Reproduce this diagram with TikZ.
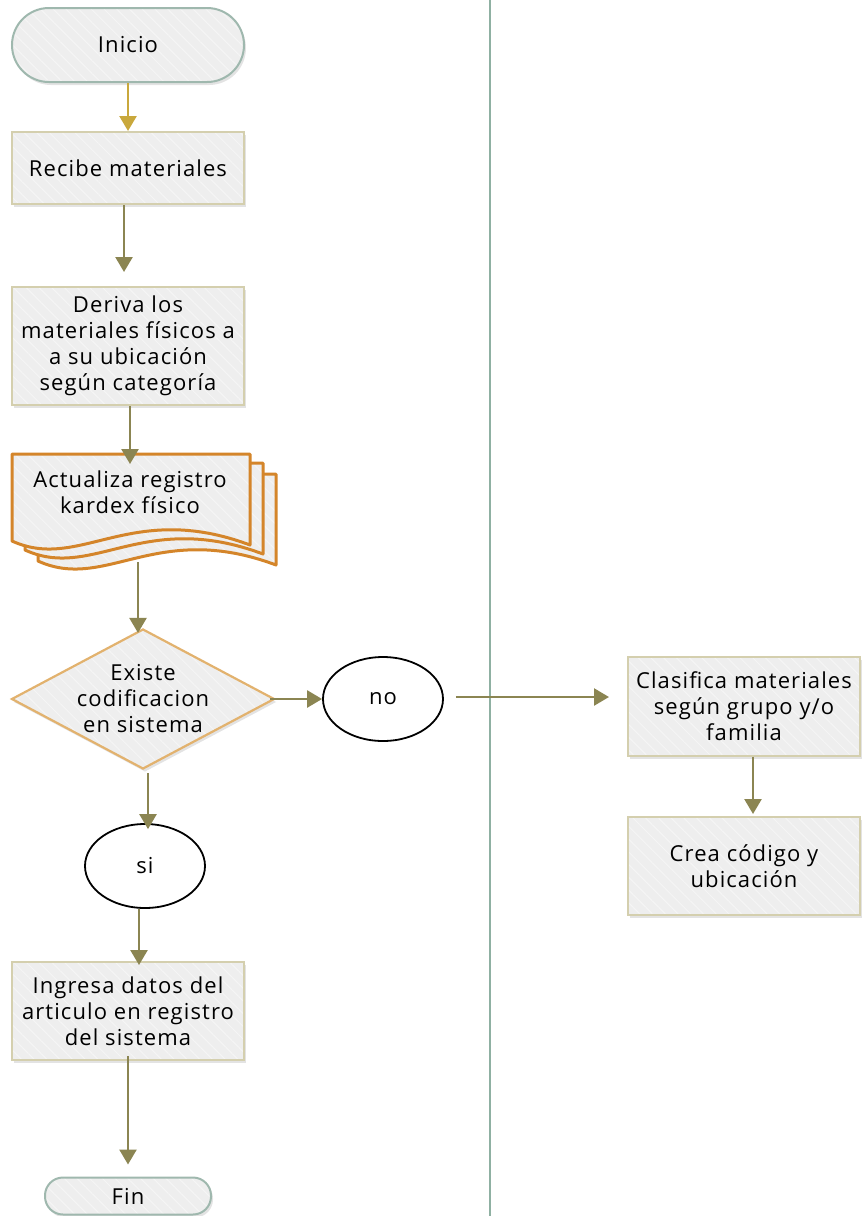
\documentclass[tikz,border=0pt]{standalone}
\usepackage{fontspec}
\setmainfont{Open Sans}[LetterSpace=5]
\usetikzlibrary{arrows.meta,shapes.geometric,shadows,calc,patterns.meta}

\definecolor{flowfill}{HTML}{EEEEEE}
\definecolor{stripe}{HTML}{F5F5F5}
\definecolor{boxline}{HTML}{D4CFAE}
\definecolor{termline}{HTML}{9FB8AE}
\definecolor{docline}{HTML}{D4852A}
\definecolor{decline}{HTML}{E2B26E}
\definecolor{laneline}{HTML}{8FB0A2}
\definecolor{arrowolive}{HTML}{8B8552}
\definecolor{arrowgold}{HTML}{C9A83C}

\tikzset{
  x=1pt, y=-1pt,
  every node/.style={font=\fontsize{22}{26}\selectfont, text=black, align=center, inner sep=0pt},
  softshadow/.style={drop shadow={opacity=0.22, shadow xshift=2pt, shadow yshift=-3pt}},
  hatched/.style={preaction={fill=flowfill},
    pattern={Lines[angle=-45, distance=9pt, line width=1pt]}, pattern color=stripe},
  procbox/.style={softshadow, hatched, draw=boxline, line width=2pt,
    minimum width=232pt},
  terminal/.style={softshadow, hatched, draw=termline, line width=2pt},
  decision/.style={diamond, softshadow, hatched, draw=decline, line width=2.2pt,
    minimum width=263pt, minimum height=140pt, aspect=1.88},
  connector/.style={ellipse, draw=black, line width=1.8pt, fill=white,
    minimum width=120pt, minimum height=84pt},
  flow/.style={draw=arrowolive, line width=2.5pt, -{Triangle[width=17pt,length=15pt]}},
  docpage/.style={hatched, draw=docline, line width=3pt, line join=round},
}

% one sheet of the stacked document symbol, shifted by (#1,#2)
\newcommand{\docsheet}[2]{%
  \begin{scope}[shift={(#1,#2)}]
    \draw[docpage] (12,454) -- (250,454) -- (250,545)
      .. controls (130,500) and (80,572) .. (12,541) -- cycle;
  \end{scope}}

\begin{document}
\begin{tikzpicture}
\useasboundingbox (0,0) rectangle (863,1216);

% swimlane divider
\draw[laneline, line width=2.5pt] (490,-2) coordinate (laneTop) -- (490,1218) coordinate (laneBot);

% terminals
\node[terminal, minimum width=232pt, minimum height=74pt, rounded corners=37pt] (inicio) at (128,45) {Inicio};
\node[terminal, minimum width=166pt, minimum height=37pt, rounded corners=18pt] (fin) at (128,1196) {Fin};

% process steps of the left lane
\node[procbox, minimum height=72pt] (recibe) at (128,168) {Recibe materiales};
\node[procbox, minimum height=118pt] (deriva) at (128,346) {Deriva los\\materiales físicos a\\a su ubicación\\según categoría};

% stacked document
\docsheet{26}{20}
\docsheet{13}{9}
\docsheet{0}{0}
\node (kardex) at (130,492) {Actualiza registro\\kardex físico};
\coordinate (kardexTop) at (130,454);
\coordinate (kardexBot) at (138,562);

% decision and its outcomes
\node[decision] (existe) at (143,699) {Existe\\codificacion\\en sistema};
\node[connector] (no) at (383,699) {no};
\node[connector] (si) at (145,866) {si};

\node[procbox, minimum height=98pt] (ingresa) at (128,1011) {Ingresa datos del\\articulo en registro\\del sistema};

% right lane
\node[procbox, minimum height=99pt] (clasifica) at (744,706) {Clasifica materiales\\según grupo y/o\\familia};
\node[procbox, minimum height=98pt] (crea) at (744,866) {Crea código y\\ubicación};

% connectors
\draw[flow, draw=arrowgold, arrowgold] (inicio.south) -- (recibe.north);
\draw[flow] ([xshift=-4pt]recibe.south) -- ([xshift=-4pt, yshift=14pt]deriva.north);
\draw[flow] ([xshift=2pt]deriva.south) -- ([yshift=-10pt]kardexTop);
\draw[flow] (kardexBot) -- ([xshift=-5pt, yshift=-5pt]existe.north);
\draw[flow] ([xshift=-6pt]existe.east) -- (no.west);
\draw[flow] ([yshift=-3pt]existe.south -| 148,0) -- ([yshift=-6pt]si.north -| 148,0);
\draw[flow] (si.south -| 139,0) -- ([yshift=-4pt]ingresa.north -| 139,0);
\draw[flow] ([yshift=5pt]ingresa.south) -- ([yshift=12pt]fin.north);
\draw[flow] ($(no.east)+(12,-2)$) -- ($(clasifica.west)+(-18,-9)$);
\draw[flow] ([xshift=9pt]clasifica.south) -- ([xshift=9pt, yshift=2pt]crea.north);
\end{tikzpicture}
\end{document}
